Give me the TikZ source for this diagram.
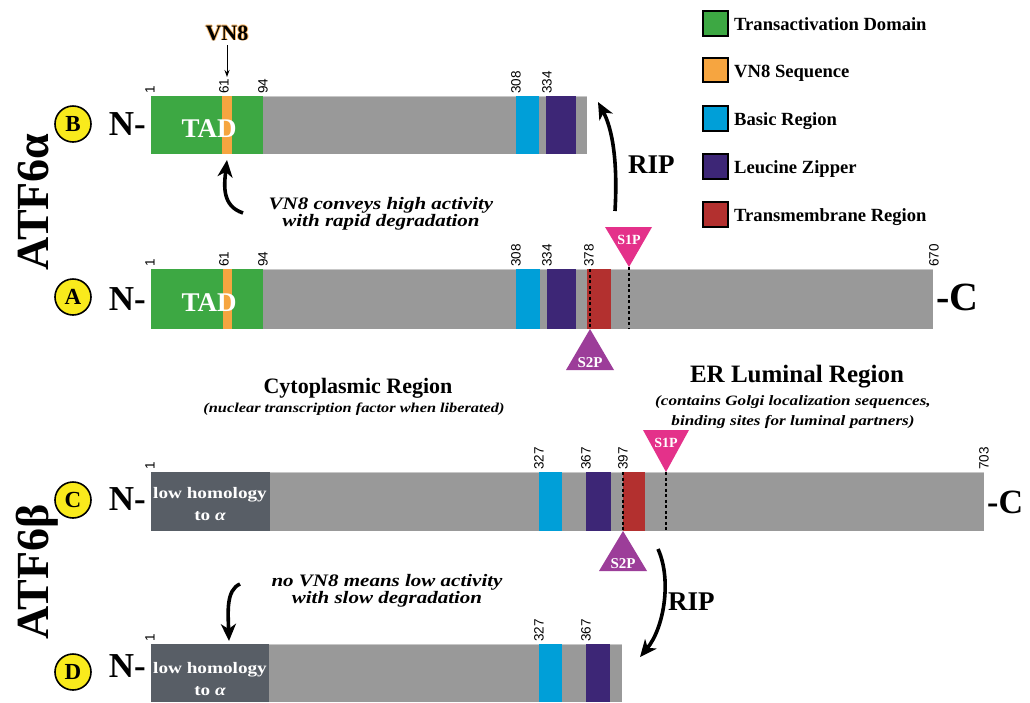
\documentclass[tikz,border=0pt]{standalone}
\usepackage{fontspec}
\setmainfont{Liberation Serif}
\newfontfamily\numfont{Liberation Sans}
\newfontfamily\wideit[FakeStretch=1.2]{Liberation Serif}
\usetikzlibrary{arrows.meta,shapes.geometric}
\definecolor{tadgreen}{HTML}{3DA843}
\definecolor{vnorange}{HTML}{F6A540}
\definecolor{basicblue}{HTML}{009FD8}
\definecolor{zipper}{HTML}{3D2676}
\definecolor{tmred}{HTML}{B3302F}
\definecolor{bargray}{HTML}{999999}
\definecolor{lowgray}{HTML}{585E66}
\definecolor{sonep}{HTML}{E4318A}
\definecolor{stwop}{HTML}{9C3D99}
\definecolor{circyellow}{HTML}{F9EA1C}
\newcommand\fsz[1]{\fontsize{#1}{#1}\selectfont}
\begin{document}
\begin{tikzpicture}[x=1pt,y=-1pt,
  num/.style={rotate=90,anchor=west,inner sep=1pt,font=\numfont\fsz{13.5}},
  letterc/.style={circle,fill=circyellow,draw=black,line width=1.6pt,minimum size=36pt,inner sep=0pt,font=\bfseries\fsz{23}},
  nterm/.style={anchor=base east,inner sep=0pt,font=\bfseries\fsz{35}},
  cterm/.style={anchor=base west,inner sep=0pt,font=\bfseries\fsz{#1}},
  whitebold/.style={text=white,inner sep=0pt,anchor=base,font=\bfseries\fsz{#1}},
  lowtxt/.style={text=white,inner sep=0pt,anchor=base,font=\wideit\bfseries\fsz{16}},
  bigarrow/.style={line width=3.6pt,-{Stealth[length=17pt,width=15pt,inset=5pt]}},
  smallarrow/.style={line width=1pt,-{Stealth[length=7pt,width=5pt]}},
  cutdash/.style={line width=1.6pt,dash pattern=on 3pt off 2.5pt},
  legsq/.style={draw=black,line width=1.4pt},
  legtxt/.style={anchor=base west,inner sep=0pt,font=\bfseries\fsz{18.6}},
  note/.style={align=center,inner sep=0pt,font=\wideit\bfseries\itshape\fsz{17.5}},
  topedge/.style={draw=black!22,line width=1pt}
]
\useasboundingbox (0,0) rectangle (1030,702);
\fill[white] (0,0) rectangle (1030,702);

% ---------- legend ----------
\fill[tadgreen]  (703,11) rectangle (728,36);  \draw[legsq] (703,11) rectangle (728,36);
\fill[vnorange]  (703,58) rectangle (728,82);  \draw[legsq] (703,58) rectangle (728,82);
\fill[basicblue] (703,106) rectangle (728,131); \draw[legsq] (703,106) rectangle (728,131);
\fill[zipper]    (703,154) rectangle (728,179); \draw[legsq] (703,154) rectangle (728,179);
\fill[tmred]     (703,202) rectangle (728,227); \draw[legsq] (703,202) rectangle (728,227);
\node[legtxt] (lg1) at (734,30) {Transactivation Domain};
\node[legtxt] (lg2) at (734,77) {VN8 Sequence};
\node[legtxt] (lg3) at (734,125) {Basic Region};
\node[legtxt] (lg4) at (734,173) {Leucine Zipper};
\node[legtxt] (lg5) at (734,221) {Transmembrane Region};

% ---------- side titles ----------
\node[rotate=90,anchor=base,inner sep=0pt,font=\bfseries\fsz{46}] (atfa) at (48,202) {ATF6α};
\node[rotate=90,anchor=base,inner sep=0pt,font=\bfseries\fsz{46}] (atfb) at (48,572) {ATF6β};

% ---------- bar B ----------
\fill[bargray] (151,96) rectangle (587,154);
\draw[topedge] (263,96.5) -- (587,96.5);
\fill[tadgreen] (151,96) rectangle (263,154);
\fill[vnorange] (222,96) rectangle (232,154);
\fill[basicblue] (516,96) rectangle (539,154);
\fill[zipper] (546,96) rectangle (576,154);
\node[whitebold=27] (tadB) at (209,137) {TAD};
\node[letterc] (cB) at (73,124) {B};
\node[nterm] (nB) at (146,135) {N-};
\node[num] (b1) at (150,95) {1};
\node[num] (b61) at (224,95) {61};
\node[num] (b94) at (263,95) {94};
\node[num] (b308) at (516,95) {308};
\node[num] (b334) at (547,95) {334};
\coordinate (vnB) at (227,77);
\coordinate (vnBbot) at (227,160);
\coordinate (ripBtop) at (598,102);

% VN8 label with a thin orange halo
\foreach \dx/\dy [count=\i] in {-0.9/0,0.9/0,0/-0.9,0/0.9}
  \node[anchor=base,inner sep=0pt,text=vnorange!80,font=\bfseries\fsz{22}] (vnglow\i) at (227+\dx,40+\dy) {VN8};
\node[anchor=base,inner sep=0pt,font=\bfseries\fsz{22}] (vn8) at (227,40) {VN8};
\draw[smallarrow] (227,45) -- (vnB);

% ---------- bar A ----------
\fill[bargray] (151,269) rectangle (933,329);
\draw[topedge] (263,269.5) -- (933,269.5);
\fill[tadgreen] (151,269) rectangle (263,329);
\fill[vnorange] (223,269) rectangle (232,329);
\fill[basicblue] (516,269) rectangle (540,329);
\fill[zipper] (547,269) rectangle (576,329);
\fill[tmred] (587,269) rectangle (611,329);
\node[whitebold=27] (tadA) at (209,311) {TAD};
\node[letterc] (cA) at (73,297) {A};
\node[nterm] (nA) at (146,310) {N-};
\node[cterm=40] (cTA) at (936,310) {-C};
\node[num] (a1) at (150,268) {1};
\node[num] (a61) at (224,268) {61};
\node[num] (a94) at (263,268) {94};
\node[num] (a308) at (516,268) {308};
\node[num] (a334) at (547,268) {334};
\node[num] (a378) at (589,268) {378};
\node[num] (a670) at (934,268) {670};
\draw[cutdash] (590,269) -- (590,329);
\draw[cutdash] (629,267) -- (629,329);
\fill[sonep] (605,227) -- (652,227) -- (629,267) -- cycle;
\node[whitebold=14] (s1pA) at (629,244) {S1P};
\fill[stwop] (566,370) -- (614,370) -- (590,329) -- cycle;
\node[whitebold=15] (s2pA) at (590,367) {S2P};
\coordinate (ripAbot) at (615,211);

% arrows of the alpha part
\draw[bigarrow] (243,213) .. controls (222,206) and (224,186) .. (vnBbot);
\node[note] (noteA) at (381,214) {VN8 conveys high activity\\with rapid degradation};
\draw[bigarrow] (ripAbot) .. controls (618,160) and (612,128) .. (ripBtop);
\node[anchor=base west,inner sep=0pt,font=\bfseries\fsz{27}] (ripA) at (628,173) {RIP};

% ---------- region titles ----------
\node[anchor=base,inner sep=0pt,font=\bfseries\fsz{22}] (cyto) at (358,393) {Cytoplasmic Region};
\node[anchor=base,inner sep=0pt,font=\wideit\bfseries\itshape\fsz{13.6}] (cytosub) at (354,412) {(nuclear transcription factor when liberated)};
\node[anchor=base,inner sep=0pt,font=\bfseries\fsz{25}] (er) at (797,382) {ER Luminal Region};
\node[anchor=base,inner sep=0pt,font=\wideit\bfseries\itshape\fsz{14.3}] (ersub1) at (793,405) {(contains Golgi localization sequences,};
\node[anchor=base,inner sep=0pt,font=\wideit\bfseries\itshape\fsz{14.3}] (ersub2) at (793,425) {binding sites for luminal partners)};

% ---------- bar C ----------
\fill[bargray] (151,472) rectangle (984,531);
\draw[topedge] (270,472.5) -- (984,472.5);
\fill[lowgray] (151,472) rectangle (270,531);
\fill[basicblue] (539,472) rectangle (562,531);
\fill[zipper] (586,472) rectangle (611,531);
\fill[tmred] (623,472) rectangle (645,531);
\node[lowtxt] (lowC1) at (210,498) {low homology};
\node[lowtxt] (lowC2) at (210,520) {to \itshape α};
\node[letterc] (cC) at (73,500) {C};
\node[nterm] (nC) at (146,510) {N-};
\node[cterm=34] (cTC) at (987,513) {-C};
\node[num] (c1) at (150,471) {1};
\node[num] (c327) at (539,471) {327};
\node[num] (c367) at (586,471) {367};
\node[num] (c397) at (623,471) {397};
\node[num] (c703) at (984,471) {703};
\draw[cutdash] (623,472) -- (623,531);
\draw[cutdash] (666,472) -- (666,531);
\fill[sonep] (643,430) -- (689,430) -- (666,472) -- cycle;
\node[whitebold=14] (s1pC) at (666,447) {S1P};
\fill[stwop] (599,571) -- (647,571) -- (623,531) -- cycle;
\node[whitebold=15] (s2pC) at (623,568) {S2P};
\coordinate (ripCtop) at (658,549);

% ---------- bar D ----------
\fill[bargray] (151,644) rectangle (622,702);
\draw[topedge] (269,644.5) -- (622,644.5);
\fill[lowgray] (151,644) rectangle (269,702);
\fill[basicblue] (539,644) rectangle (562,702);
\fill[zipper] (586,644) rectangle (610,702);
\node[lowtxt] (lowD1) at (210,673) {low homology};
\node[lowtxt] (lowD2) at (210,695) {to \itshape α};
\node[letterc] (cD) at (73,672) {D};
\node[nterm] (nD) at (146,677) {N-};
\node[num] (d1) at (150,643) {1};
\node[num] (d327) at (539,643) {327};
\node[num] (d367) at (586,643) {367};
\coordinate (ripDtip) at (640,657);
\coordinate (noteBtip) at (229,641);

% arrows of the beta part
\node[note] (noteB) at (387,591) {no VN8 means low activity\\with slow degradation};
\draw[bigarrow] (240,584) .. controls (226,590) and (228,612) .. (noteBtip);
\draw[bigarrow] (ripCtop) .. controls (672,580) and (664,628) .. (ripDtip);
\node[anchor=base west,inner sep=0pt,font=\bfseries\fsz{27}] (ripC) at (668,610) {RIP};
\end{tikzpicture}
\end{document}
